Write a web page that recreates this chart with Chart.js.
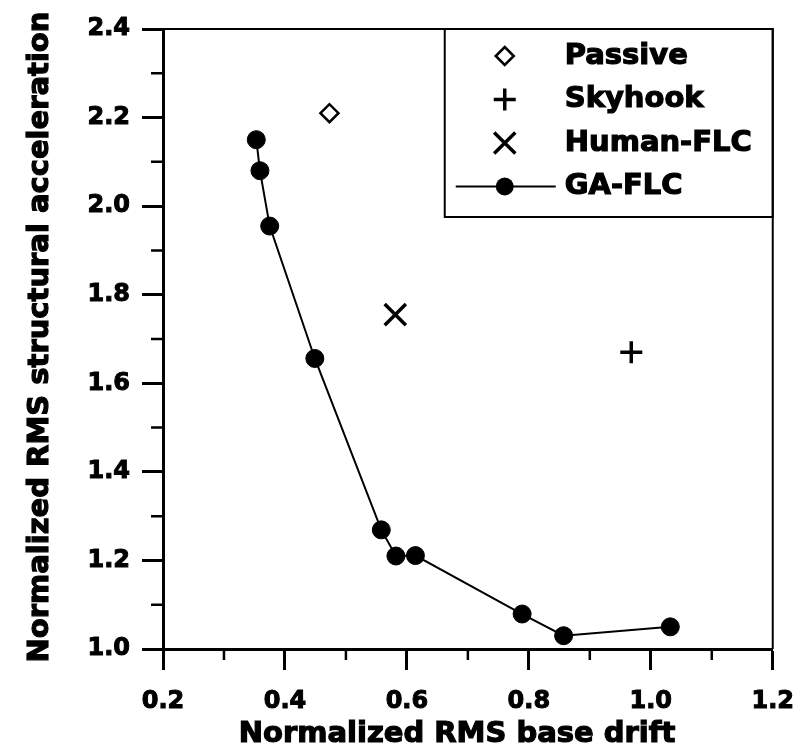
<!DOCTYPE html>
<html>
<head>
<meta charset="utf-8">
<title>Normalized RMS response</title>
<script src="https://cdn.jsdelivr.net/npm/chart.js@4.4.0/dist/chart.umd.min.js"></script>
<style>
    html, body { margin: 0; padding: 0; background: #fff; }
    #wrap { width: 811px; height: 752px; }
</style>
</head>
<body>
<div id="wrap"><canvas id="chart"></canvas></div>
<script>
// Axis ticks
const xTicks = [0.2, 0.4, 0.6, 0.8, 1.0, 1.2];
const yTicks = [1.0, 1.2, 1.4, 1.6, 1.8, 2.0, 2.2, 2.4];
const xMinorTicks = [0.3, 0.5, 0.7, 0.9, 1.1];
const yMinorTicks = [1.1, 1.3, 1.5, 1.7, 1.9, 2.1, 2.3];

// Axis titles
const xTitle = 'Normalized RMS base drift';
const yTitle = 'Normalized RMS structural acceleration';

// Series
const seriesNames = ['Passive', 'Skyhook', 'Human-FLC', 'GA-FLC'];
const passiveX = [0.473];
const passiveY = [2.21];
const skyhookX = [0.968];
const skyhookY = [1.67];
const humanX = [0.581];
const humanY = [1.755];
const gaX = [0.353, 0.359, 0.375, 0.449, 0.558, 0.582, 0.614, 0.789, 0.857, 1.032];
const gaY = [2.15, 2.08, 1.955, 1.656, 1.269, 1.21, 1.211, 1.079, 1.03, 1.05];

const FONT = "'DejaVu Sans', 'Liberation Sans', Arial, sans-serif";

function toPoints(xs, ys) {
    return xs.map((x, i) => ({ x: x, y: ys[i] }));
}

// heavy text: fill plus a thin stroke, like the scanned figure
function heavyText(ctx, text, x, y) {
    ctx.fillText(text, x, y);
    ctx.strokeText(text, x, y);
}

// draws a legend marker in the same style as the dataset
function drawMarker(ctx, style, x, y, r, lw, fill) {
    ctx.save();
    ctx.lineWidth = lw;
    ctx.strokeStyle = '#000';
    ctx.fillStyle = fill;
    ctx.beginPath();
    if (style === 'rectRot') {
        ctx.moveTo(x, y - r);
        ctx.lineTo(x + r, y);
        ctx.lineTo(x, y + r);
        ctx.lineTo(x - r, y);
        ctx.closePath();
        ctx.fill();
        ctx.stroke();
    } else if (style === 'cross') {
        ctx.moveTo(x - r, y); ctx.lineTo(x + r, y);
        ctx.moveTo(x, y - r); ctx.lineTo(x, y + r);
        ctx.stroke();
    } else if (style === 'crossRot') {
        const d = r * Math.SQRT1_2;
        ctx.moveTo(x - d, y - d); ctx.lineTo(x + d, y + d);
        ctx.moveTo(x + d, y - d); ctx.lineTo(x - d, y + d);
        ctx.stroke();
    } else {
        ctx.arc(x, y, r, 0, Math.PI * 2);
        ctx.fill();
    }
    ctx.restore();
}

// frame, minor ticks, axis titles and boxed legend
const decorPlugin = {
    id: 'decor',
    afterDraw(chart) {
        const ctx = chart.ctx;
        const area = chart.chartArea;
        const xs = chart.scales.x;
        const ys = chart.scales.y;

        ctx.save();
        ctx.strokeStyle = '#000';
        ctx.fillStyle = '#000';

        // top and right frame
        ctx.lineWidth = 2;
        ctx.beginPath();
        ctx.moveTo(area.left, area.top);
        ctx.lineTo(area.right, area.top);
        ctx.lineTo(area.right, area.bottom);
        ctx.stroke();

        // minor ticks
        ctx.lineWidth = 2.5;
        ctx.beginPath();
        xMinorTicks.forEach(v => {
            const px = xs.getPixelForValue(v);
            ctx.moveTo(px, area.bottom);
            ctx.lineTo(px, area.bottom + 11);
        });
        yMinorTicks.forEach(v => {
            const py = ys.getPixelForValue(v);
            ctx.moveTo(area.left, py);
            ctx.lineTo(area.left - 12, py);
        });
        ctx.stroke();

        // axis titles
        ctx.font = "bold 29px " + FONT;
        ctx.lineWidth = 1.2;
        ctx.textAlign = 'center';
        ctx.textBaseline = 'alphabetic';
        heavyText(ctx, xTitle, 457, 742);
        ctx.save();
        ctx.translate(48, (area.top + area.bottom) / 2 - 2);
        ctx.rotate(-Math.PI / 2);
        heavyText(ctx, yTitle, 0, 0);
        ctx.restore();

        // legend box
        const boxW = 328, boxH = 188;
        const bx = area.right - boxW, by = area.top;
        ctx.lineWidth = 2;
        ctx.strokeRect(bx, by, boxW, boxH);

        ctx.font = "bold 29px " + FONT;
        ctx.textAlign = 'left';
        ctx.textBaseline = 'middle';
        const symX = bx + 60;
        const textX = bx + 120;
        chart.data.datasets.forEach((ds, i) => {
            const rowY = by + 27 + i * 43.5;
            if (ds.showLine) {
                ctx.lineWidth = 2;
                ctx.beginPath();
                ctx.moveTo(bx + 11, rowY);
                ctx.lineTo(bx + 111, rowY);
                ctx.stroke();
            }
            drawMarker(ctx, ds.pointStyle, symX, rowY, ds.pointRadius, ds.pointBorderWidth, ds.pointBackgroundColor);
            ctx.lineWidth = 1.2;
            heavyText(ctx, ds.label, textX, rowY);
        });
        ctx.restore();
    }
};

const ctx = document.getElementById('chart').getContext('2d');
new Chart(ctx, {
    type: 'scatter',
    data: {
        datasets: [
            {
                label: seriesNames[0],
                data: toPoints(passiveX, passiveY),
                pointStyle: 'rectRot',
                pointRadius: 9,
                pointBorderWidth: 2.5,
                pointBorderColor: '#000',
                pointBackgroundColor: '#fff',
                showLine: false
            },
            {
                label: seriesNames[1],
                data: toPoints(skyhookX, skyhookY),
                pointStyle: 'cross',
                pointRadius: 11,
                pointBorderWidth: 3.5,
                pointBorderColor: '#000',
                pointBackgroundColor: '#000',
                showLine: false
            },
            {
                label: seriesNames[2],
                data: toPoints(humanX, humanY),
                pointStyle: 'crossRot',
                pointRadius: 15,
                pointBorderWidth: 3.5,
                pointBorderColor: '#000',
                pointBackgroundColor: '#000',
                showLine: false
            },
            {
                label: seriesNames[3],
                data: toPoints(gaX, gaY),
                pointStyle: 'circle',
                pointRadius: 9,
                pointBorderWidth: 1,
                pointBorderColor: '#000',
                pointBackgroundColor: '#000',
                borderColor: '#000',
                borderWidth: 2,
                showLine: true,
                tension: 0
            }
        ]
    },
    options: {
        responsive: true,
        maintainAspectRatio: false,
        animation: false,
        events: [],
        layout: {
            padding: { top: 29, right: 29, left: 0, bottom: 0 }
        },
        plugins: {
            legend: { display: false },
            tooltip: { enabled: false }
        },
        scales: {
            x: {
                type: 'linear',
                min: 0.2,
                max: 1.2,
                afterBuildTicks: function(scale) {
                    scale.ticks = xTicks.map(v => ({ value: v }));
                },
                afterFit: function(scale) {
                    scale.height = 103;
                },
                border: { display: true, color: '#000', width: 3 },
                grid: {
                    drawOnChartArea: false,
                    drawTicks: true,
                    tickLength: 21,
                    tickWidth: 3,
                    tickColor: '#000'
                },
                ticks: {
                    color: '#000',
                    padding: 17,
                    maxRotation: 0,
                    textStrokeColor: '#000',
                    textStrokeWidth: 1,
                    font: { family: FONT, size: 24, weight: 'bold' },
                    callback: function(value) {
                        return value.toFixed(1);
                    }
                },
                title: { display: false }
            },
            y: {
                type: 'linear',
                min: 1.0,
                max: 2.4,
                afterBuildTicks: function(scale) {
                    scale.ticks = yTicks.map(v => ({ value: v }));
                },
                afterFit: function(scale) {
                    scale.width = 163;
                },
                border: { display: true, color: '#000', width: 3 },
                grid: {
                    drawOnChartArea: false,
                    drawTicks: true,
                    tickLength: 21,
                    tickWidth: 3,
                    tickColor: '#000'
                },
                ticks: {
                    color: '#000',
                    padding: 12,
                    textStrokeColor: '#000',
                    textStrokeWidth: 1,
                    font: { family: FONT, size: 24, weight: 'bold' },
                    callback: function(value) {
                        return value.toFixed(1);
                    }
                },
                title: { display: false }
            }
        }
    },
    plugins: [decorPlugin]
});
</script>
</body>
</html>
